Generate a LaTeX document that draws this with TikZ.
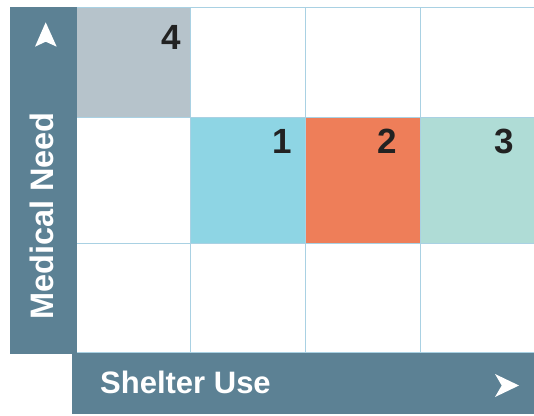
\documentclass[tikz,border=0pt]{standalone}
\usepackage{fontspec}
\setmainfont{Liberation Sans}
\definecolor{barc}{HTML}{5C8194}
\definecolor{grayc}{HTML}{B6C3CB}
\definecolor{bluec}{HTML}{8ED5E4}
\definecolor{orangec}{HTML}{EE7E59}
\definecolor{tealc}{HTML}{AFDCD6}
\definecolor{gridc}{HTML}{A9D1E3}
\definecolor{digitc}{HTML}{222222}
\tikzset{
  digit/.style={anchor=base, text=digitc, font=\fontsize{35}{35}\selectfont\bfseries, inner sep=0pt},
  axislabel/.style={text=white, font=\fontsize{31}{31}\selectfont\bfseries, inner sep=0pt},
  gridline/.style={draw=gridc, line width=1pt},
}
\begin{document}
\begin{tikzpicture}[x=1pt,y=-1pt]
\useasboundingbox (0,0) rectangle (534,415);
\fill[white] (0,0) rectangle (534,415);
% cells
\fill[grayc] (76,7) rectangle (190,117);
\fill[bluec] (190,117) rectangle (305,243);
\fill[orangec] (305,117) rectangle (420,243);
\fill[tealc] (420,117) rectangle (534,243);
% grid lines
\foreach \yy in {7,117,243,352} \draw[gridline] (76,\yy) -- (534,\yy);
\foreach \xx in {190,305,420} \draw[gridline] (\xx,7) -- (\xx,352);
% bars
\fill[barc] (10,7) rectangle (77,354);
\fill[barc] (72,352.5) rectangle (534,414);
\draw[gridline] (77,352) -- (534,352);
% arrows
\fill[white] (45.7,22.3) -- (56.7,46.7) -- (45.7,41.7) -- (35,46.7) -- cycle;
\fill[white] (495,374) -- (519,385.5) -- (495,397) -- (501.7,385.5) -- cycle;
% labels
\node[axislabel, anchor=base west] (shelter) at (100,393) {Shelter Use};
\node[axislabel, rotate=90, font=\fontsize{32.5}{32.5}\selectfont\bfseries] (medical) at (42,216) {Medical Need};
\node[digit] (d4) at (171.5,49) {4};
\node[digit] (d1) at (282.5,153) {1};
\node[digit] (d2) at (387,153) {2};
\node[digit] (d3) at (504.5,153) {3};
\end{tikzpicture}
\end{document}
